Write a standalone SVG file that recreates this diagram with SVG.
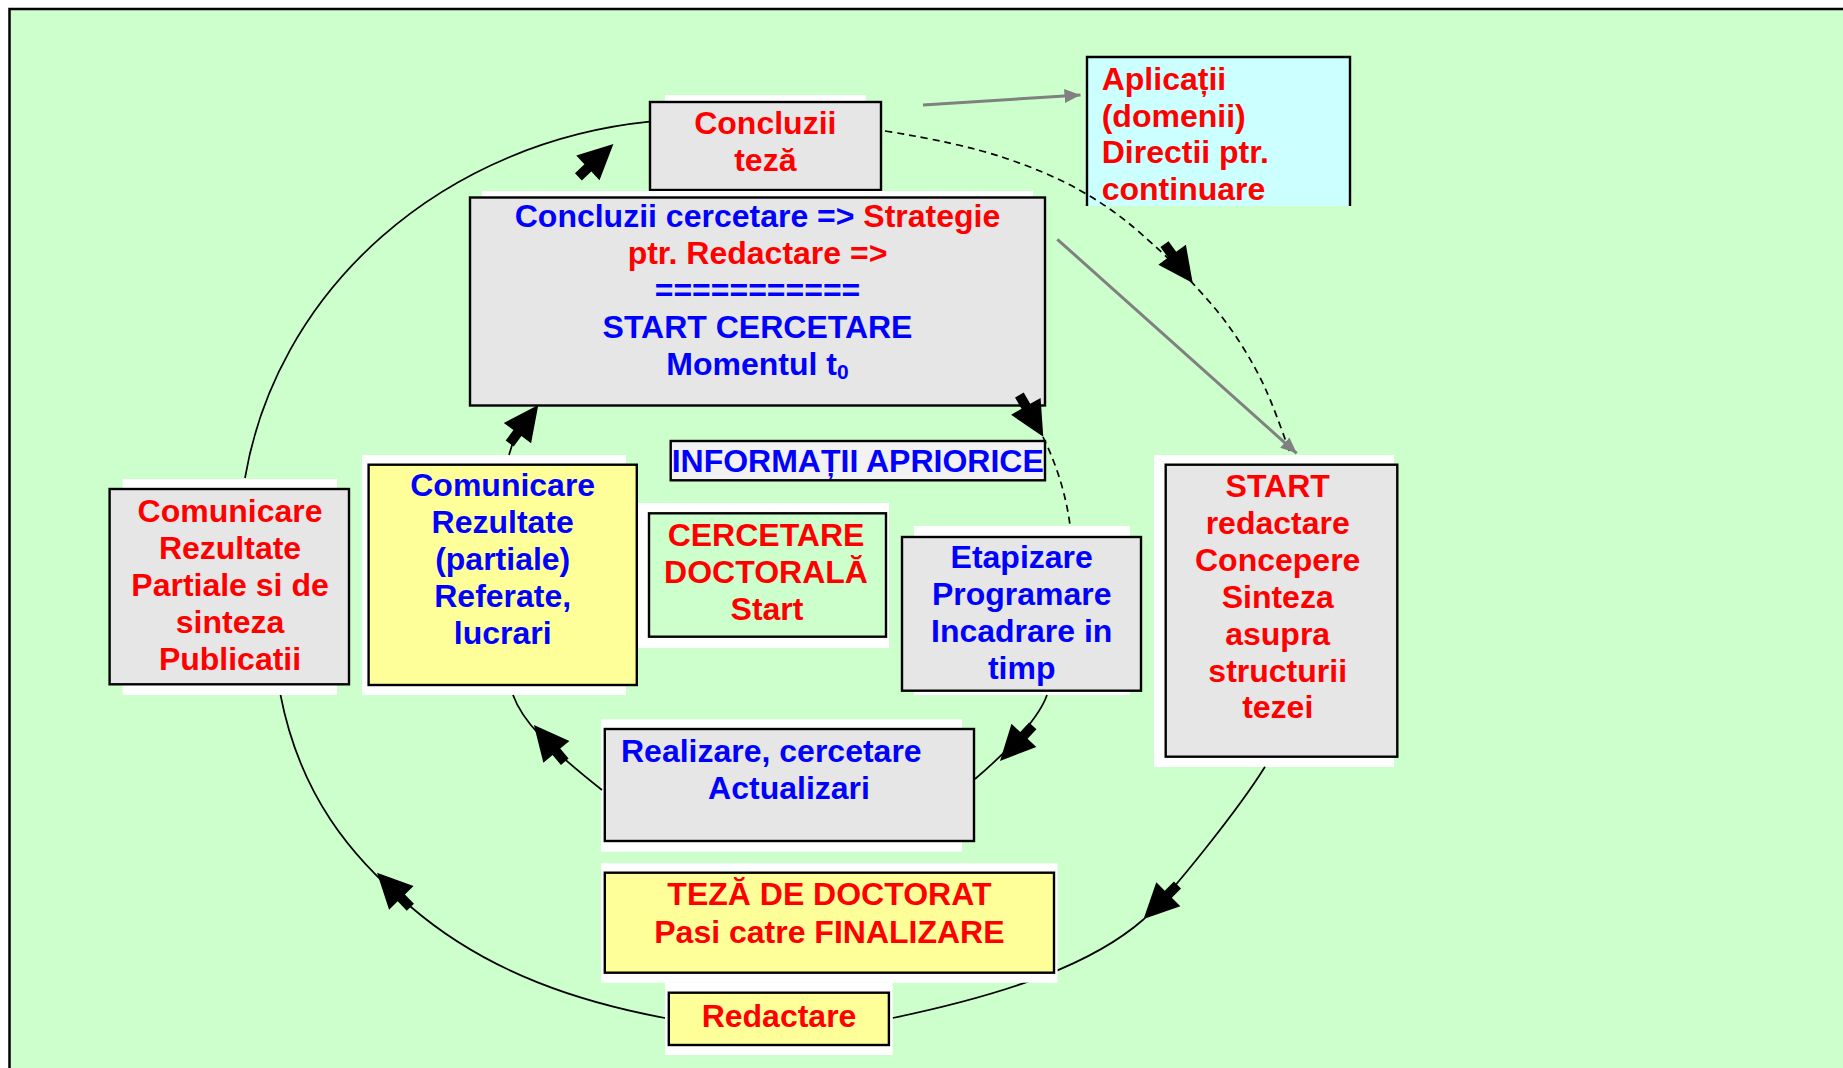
<svg xmlns="http://www.w3.org/2000/svg" width="1843" height="1068" viewBox="0 0 1843 1068">
<style>
.t{font-family:"Liberation Sans",Arial,sans-serif;font-weight:bold;font-size:32px}
.r{fill:#ff0000}.b{fill:#0000ff}.c{text-anchor:middle}
.box{stroke:#000;stroke-width:2.4}
.g{fill:#e6e6e6}.y{fill:#ffff99}.w{fill:#ffffff}
.arc{fill:none;stroke:#000;stroke-width:1.7}
.dash{fill:none;stroke:#000;stroke-width:1.7;stroke-dasharray:7 5}
.gray{fill:none;stroke:#808080;stroke-width:3;marker-end:url(#ga)}
</style>
<defs>
<path id="ah" d="M0,0 L-35,-17 L-35,-5 L-48,-5 L-48,5 L-35,5 L-35,17 Z" fill="#000"/>
<marker id="ga" markerUnits="userSpaceOnUse" markerWidth="16" markerHeight="14" refX="16" refY="7" orient="auto" viewBox="0 0 16 14">
<path d="M0,0 L16,7 L0,14 Z" fill="#808080"/>
</marker>
</defs>
<rect x="0" y="0" width="1843" height="1068" fill="#ffffff"/>
<rect x="9.5" y="9" width="1850" height="1080" fill="#ccffcc" stroke="#000" stroke-width="2.5"/>

<g id="n-aplicatii">
<rect x="1087" y="57" width="263" height="149" fill="#ccffff"/>
<path d="M1087,206 V57 H1350 V206" fill="none" stroke="#000" stroke-width="2.4"/>
<text class="t r" x="1101.7" y="90">Aplicații</text>
<text class="t r" x="1101.7" y="126.5">(domenii)</text>
<text class="t r" x="1101.7" y="163">Directii ptr.</text>
<text class="t r" x="1101.7" y="199.5">continuare</text>
</g>

<g id="n-concluzii-teza">
<rect class="w" x="665" y="95" width="201" height="90"/>
<rect class="box g" x="650" y="102" width="231" height="88"/>
<text class="t r c" x="765.3" y="134.3">Concluzii</text>
<text class="t r c" x="765.3" y="170.7">teză</text>
</g>

<g id="n-start-cercetare">
<rect class="w" x="482" y="191" width="551" height="100"/>
<rect class="box g" x="470" y="197.5" width="575" height="208"/>
<text class="t c" x="757.5" y="227.3"><tspan class="b">Concluzii cercetare =&gt; </tspan><tspan class="r">Strategie</tspan></text>
<text class="t r c" x="757.5" y="264.3">ptr. Redactare =&gt;</text>
<text class="t b c" x="757.5" y="301.3">===========</text>
<text class="t b c" x="757.5" y="338.3">START CERCETARE</text>
<text class="t b c" x="757.5" y="375.3">Momentul t<tspan font-size="21" dy="4">0</tspan></text>
</g>

<g id="n-comunicare-publicatii">
<rect class="w" x="122.6" y="479" width="214.4" height="216"/>
<rect class="box g" x="109.6" y="489" width="239.4" height="195.3"/>
<text class="t r c" x="230" y="521.7">Comunicare</text>
<text class="t r c" x="230" y="558.7">Rezultate</text>
<text class="t r c" x="230" y="595.7">Partiale si de</text>
<text class="t r c" x="230" y="632.7">sinteza</text>
<text class="t r c" x="230" y="669.7">Publicatii</text>
</g>

<g id="n-comunicare-referate">
<rect class="w" x="362" y="455" width="264" height="240"/>
<rect class="box y" x="368.6" y="464.7" width="268.2" height="220.3"/>
<text class="t b c" x="502.7" y="496">Comunicare</text>
<text class="t b c" x="502.7" y="533">Rezultate</text>
<text class="t b c" x="502.7" y="570">(partiale)</text>
<text class="t b c" x="502.7" y="607">Referate,</text>
<text class="t b c" x="502.7" y="644">lucrari</text>
</g>

<g id="n-informatii">
<rect class="box" fill="#f2f2f2" x="670.7" y="441" width="374.3" height="39.3"/>
<text class="t b c" x="857.7" y="472.3">INFORMAȚII APRIORICE</text>
</g>

<g id="n-cercetare">
<rect class="w" x="638" y="503" width="251" height="145"/>
<rect class="box" fill="#ccffcc" x="649" y="513.3" width="237" height="123.4"/>
<text class="t r c" x="766" y="545.7">CERCETARE</text>
<text class="t r c" x="766" y="582.7">DOCTORALĂ</text>
<text class="t r c" x="767" y="620">Start</text>
</g>

<g id="n-etapizare">
<rect class="w" x="914" y="526" width="216" height="169"/>
<rect class="box g" x="902" y="537" width="239" height="153.7"/>
<text class="t b c" x="1021.7" y="568.3">Etapizare</text>
<text class="t b c" x="1021.7" y="605.3">Programare</text>
<text class="t b c" x="1021.7" y="642.3">Incadrare in</text>
<text class="t b c" x="1021.7" y="679.3">timp</text>
</g>

<g id="n-start-redactare">
<rect class="w" x="1154" y="455" width="240" height="312"/>
<rect class="box g" x="1165.7" y="464.7" width="231.6" height="292"/>
<text class="t r c" x="1277.7" y="497.3">START</text>
<text class="t r c" x="1277.7" y="534.1">redactare</text>
<text class="t r c" x="1277.7" y="571">Concepere</text>
<text class="t r c" x="1277.7" y="607.8">Sinteza</text>
<text class="t r c" x="1277.7" y="644.6">asupra</text>
<text class="t r c" x="1277.7" y="681.5">structurii</text>
<text class="t r c" x="1277.7" y="718.3">tezei</text>
</g>

<g id="n-realizare">
<rect class="w" x="601" y="719.3" width="361" height="132.4"/>
<rect class="box g" x="604.8" y="729" width="369.2" height="112"/>
<text class="t b" x="621" y="761.7">Realizare, cercetare</text>
<text class="t b c" x="789" y="799.3">Actualizari</text>
</g>

<g id="connectors">
<path class="arc" d="M649.6,121.7 A460,424 0 0 0 245,478"/>
<path class="arc" d="M280.5,695 C300,795 351,857 411,907 C490,975 585,1003 665,1018"/>
<path class="arc" d="M892.6,1018 C1012,993 1094,963 1144,919 C1172,893 1240,807 1265,766.7"/>
<path class="arc" d="M513,695 C522,720 545,745 602,790"/>
<path class="arc" d="M1047,695 C1040,715 1015,745 975,779"/>
<path class="arc" d="M509,455 L513,442"/>
<path class="dash" d="M885,131 Q960,143 1003.5,157.5 Q1047,172 1078.5,189.5 Q1110,207 1135,228.5 Q1160,250 1176.5,266.5 Q1193,283 1210,302.5 Q1227,322 1241.5,345 Q1256,368 1265.5,389 Q1275,410 1290,453"/>
<path class="dash" d="M1043,437 Q1064,480 1070,525"/>
<path class="gray" d="M923,105 L1080.5,95"/>
<path class="gray" d="M1057.3,239.3 L1296.7,453.3"/>
<use href="#ah" transform="translate(538.3,405) rotate(-53.4)"/>
<use href="#ah" transform="translate(613.4,144) rotate(-43.2)"/>
<use href="#ah" transform="translate(1192.7,283) rotate(54)"/>
<use href="#ah" transform="translate(1043.3,436.7) rotate(60.1)"/>
<use href="#ah" transform="translate(377,872.7) rotate(-134)"/>
<use href="#ah" transform="translate(533.9,725) rotate(-130)"/>
<use href="#ah" transform="translate(1143.6,919) rotate(134.9)"/>
<use href="#ah" transform="translate(1000,761) rotate(133.1)"/>
</g>

<g id="n-teza">
<rect class="w" x="601" y="863.3" width="456.6" height="119.4"/>
<rect class="box y" x="604.8" y="872.7" width="449.2" height="100"/>
<text class="t r c" x="829.4" y="905">TEZĂ DE DOCTORAT</text>
<text class="t r c" x="829.4" y="942.7">Pasi catre FINALIZARE</text>
</g>

<g id="n-redactare">
<rect class="w" x="665" y="982.7" width="227.6" height="72.3"/>
<rect class="box y" x="668.8" y="992.7" width="220.1" height="52.3"/>
<text class="t r c" x="779" y="1026.7">Redactare</text>
</g>
</svg>
